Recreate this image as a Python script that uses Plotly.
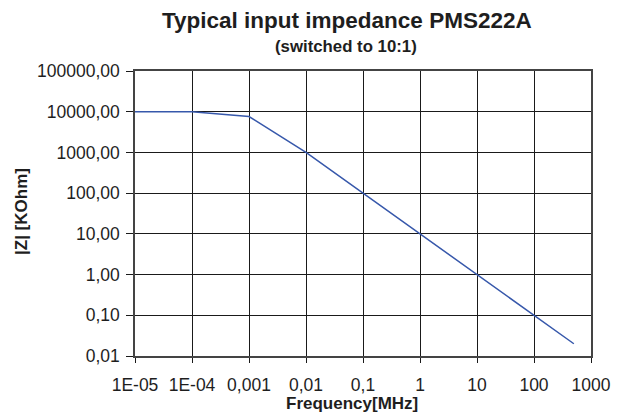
import plotly.graph_objects as go

freq_mhz = [1e-5, 1e-4, 1e-3, 1e-2, 0.1, 1, 10, 100, 500]
impedance_kohm = [10000, 10000, 7600, 1000, 100, 10, 1, 0.1, 0.02]

x_tick_vals = [1e-5, 1e-4, 1e-3, 1e-2, 0.1, 1, 10, 100, 1000]
x_tick_text = ["1E-05", "1E-04", "0,001", "0,01", "0,1", "1", "10", "100", "1000"]
y_tick_vals = [0.01, 0.1, 1, 10, 100, 1000, 10000, 100000]
y_tick_text = ["0,01", "0,10", "1,00", "10,00", "100,00", "1000,00", "10000,00", "100000,00"]

title_text = "Typical input impedance PMS222A"
subtitle_text = "(switched to 10:1)"
x_title = "Frequency[MHz]"
y_title = "|Z| [KOhm]"

W, H = 623, 419
ml, mr, mt, mb = 135, 20, 71, 63

fig = go.Figure()
fig.add_trace(go.Scatter(x=freq_mhz, y=impedance_kohm, mode="lines",
                         line=dict(color="#3758ab", width=1.5), showlegend=False))

font_family = "Liberation Sans, Arial, sans-serif"
txt = "#1e1e1e"

fig.update_layout(
    width=W, height=H,
    margin=dict(l=ml, r=mr, t=mt, b=mb, pad=0),
    paper_bgcolor="white", plot_bgcolor="white",
    font=dict(family=font_family, color=txt),
)

fig.update_xaxes(type="log", range=[-5, 3], tickvals=x_tick_vals, ticktext=x_tick_text,
                 showgrid=True, gridcolor="#1a1a1a", gridwidth=1,
                 showline=True, linecolor="#444444", linewidth=1.5, mirror=True,
                 ticks="outside", ticklen=5, tickcolor="#1a1a1a",
                 ticklabelstandoff=7,
                 tickfont=dict(size=17.5, color=txt), zeroline=False)
fig.update_yaxes(type="log", range=[-2, 5], tickvals=y_tick_vals, ticktext=y_tick_text,
                 showgrid=True, gridcolor="#1a1a1a", gridwidth=1,
                 showline=True, linecolor="#444444", linewidth=1.5, mirror=True,
                 ticks="outside", ticklen=7, tickcolor="#1a1a1a",
                 ticklabelstandoff=3,
                 tickfont=dict(size=17.5, color=txt), zeroline=False)

pw = W - ml - mr
ph = H - mt - mb

def px_x(x):
    return (x - ml) / pw

def px_y(y):
    return (H - mb - y) / ph

fig.add_annotation(text="<b>" + title_text + "</b>", xref="paper", yref="paper",
                   x=px_x(353), y=px_y(21), showarrow=False,
                   font=dict(size=22.5, color=txt), xanchor="center", yanchor="middle")
fig.add_annotation(text="<b>" + subtitle_text + "</b>", xref="paper", yref="paper",
                   x=px_x(352), y=px_y(47), showarrow=False,
                   font=dict(size=16.8, color=txt), xanchor="center", yanchor="middle")
fig.add_annotation(text="<b>" + x_title + "</b>", xref="paper", yref="paper",
                   x=px_x(358), y=px_y(403.5), showarrow=False,
                   font=dict(size=17, color=txt), xanchor="center", yanchor="middle")
fig.add_annotation(text="<b>" + y_title + "</b>", xref="paper", yref="paper",
                   x=px_x(18), y=px_y(212), showarrow=False, textangle=-90,
                   font=dict(size=17, color=txt), xanchor="center", yanchor="middle")

fig.write_html("out.html", config={"displayModeBar": False},
               post_script="document.body.style.margin='0';document.body.style.overflow='hidden';")
